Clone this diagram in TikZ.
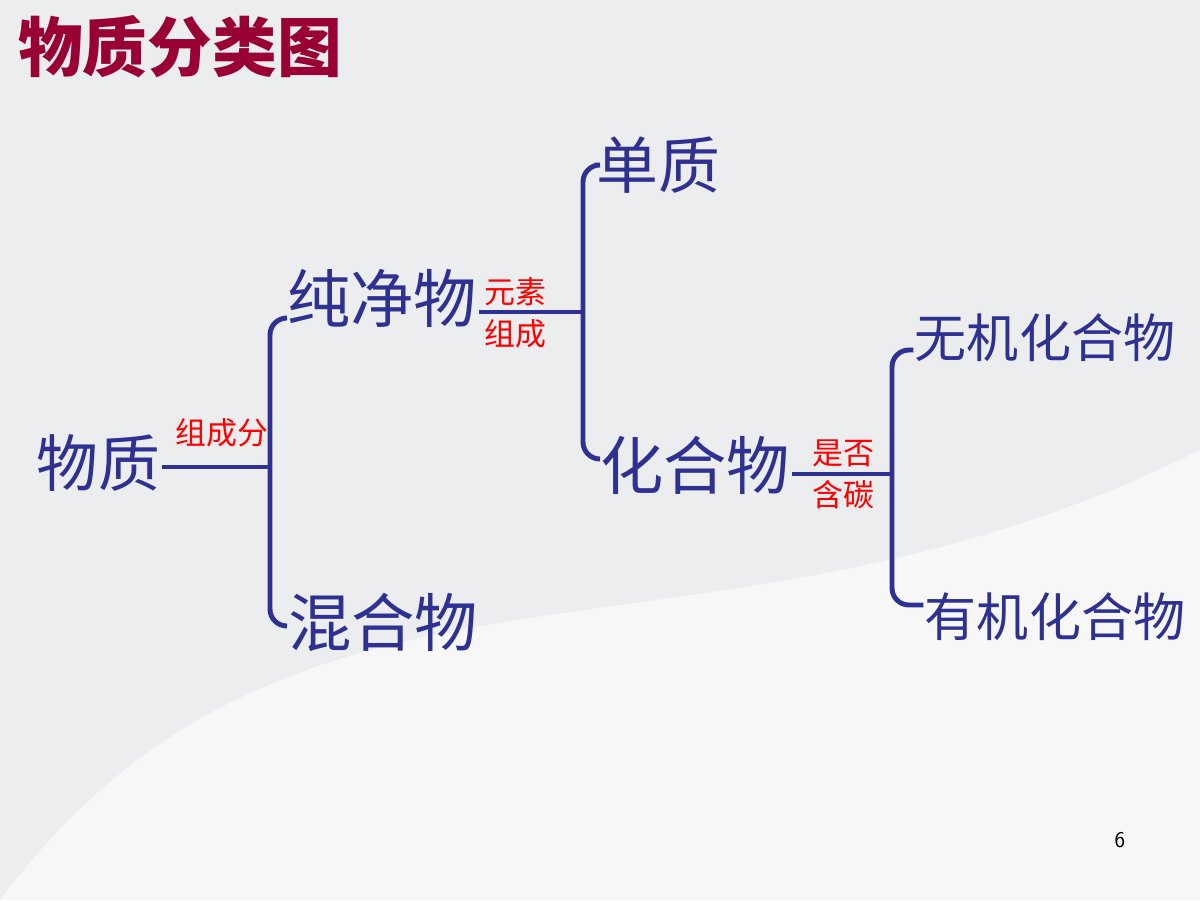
\documentclass[tikz,border=0pt]{standalone}
\usepackage{fontspec}
\setmainfont{Noto Sans CJK SC}
\newfontfamily\cjk{Noto Sans CJK SC}
\usetikzlibrary{positioning}
\definecolor{titlered}{HTML}{990033}
\definecolor{termblue}{HTML}{2E3192}
\definecolor{bggray}{HTML}{ECEDEF}
\tikzset{
  term/.style={inner sep=1pt, text=termblue, font=\cjk\fontsize{#1}{#1}\selectfont},
  term/.default=45pt,
  tag/.style={inner sep=0pt, text=red, align=center, font=\cjk\fontsize{22}{30}\selectfont},
  link/.style={draw=termblue, line width=3.5pt, rounded corners=12pt}
}
\begin{document}
\begin{tikzpicture}[x=0.025cm, y=-0.025cm]
  \fill[bggray] (0,0) rectangle (1200,900);
  \fill[white, opacity=0.6] (0,900) .. controls (300,500) and (700,700) .. (1200,450) -- (1200,900) -- cycle;
  \useasboundingbox (0,0) rectangle (1200,900);
  % title
  \node[inner sep=0pt, text=titlered, font=\cjk\fontsize{46}{46}\selectfont\bfseries] (title) at (180,47) {物质分类图};
  % terms
  \node[term=44pt] (wz) at (98,463) {物质};
  \node[term] (cjw) at (382,298) {纯净物};
  \node[term] (hhw) at (383,622) {混合物};
  \node[term=44pt] (dz) at (658,165) {单质};
  \node[term] (hgw) at (695,465) {化合物};
  \node[term=37pt] (wj) at (1045,338) {无机化合物};
  \node[term=37pt] (yj) at (1055,617) {有机化合物};
  % criteria
  \node[tag] (zcf) at (222,433) {组成分};
  \node[tag] (yszc) at (515,313) {元素\\组成};
  \node[tag] (sfht) at (843,474) {是否\\含碳};
  \node[inner sep=0pt, font=\sffamily\fontsize{16}{16}\selectfont] (page) at (1120,840) {6};
  % junctions
  \coordinate (j1) at (270,467);
  \coordinate (j2) at (583,312);
  \coordinate (j3) at (892,474);
  \draw[link] (wz.east |- j1) -- (j1);
  \draw[link] ([yshift=-0.5cm]cjw.west) -| (j1) |- ([yshift=-0.1cm]hhw.west);
  \draw[link] (cjw.east |- j2) -- (j2);
  \draw[link] (dz.west) -| (j2) |- ([yshift=0.15cm]hgw.west);
  \draw[link] (hgw.east |- j3) -- (j3);
  \draw[link] ([yshift=-0.3cm]wj.west) -| (j3) |- ([yshift=0.3cm]yj.west);
\end{tikzpicture}
\end{document}
